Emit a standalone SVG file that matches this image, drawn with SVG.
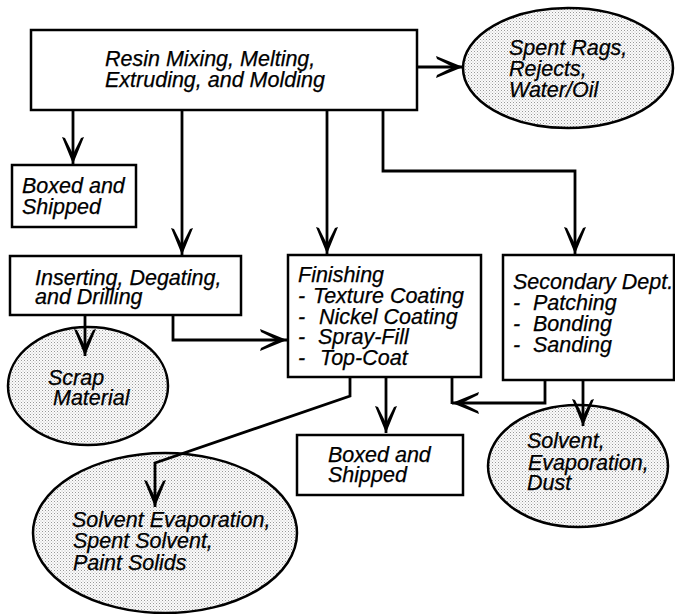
<svg xmlns="http://www.w3.org/2000/svg" width="675" height="614" viewBox="0 0 675 614">
<defs>
<pattern id="stip" width="3" height="3" patternUnits="userSpaceOnUse">
<rect width="3" height="3" fill="#fbfbfb"/>
<rect x="0" y="0" width="1" height="1" fill="#999"/>
<rect x="1.5" y="1.5" width="1" height="1" fill="#bbb"/>
</pattern>
<marker id="arr" viewBox="-30 -14 32 28" refX="0" refY="0" markerWidth="32" markerHeight="28" markerUnits="userSpaceOnUse" orient="auto">
<path d="M0,0 L-27,-11 L-26,-8 Q-16,-3 -10,0 Q-16,3 -26,8 L-27,11 Z" fill="#000"/>
</marker>
<style>
.box{fill:#fff;stroke:#000;stroke-width:2.5}
.ell{fill:url(#stip);stroke:#000;stroke-width:2.5}
.t{font-family:"Liberation Sans",Arial,sans-serif;font-style:italic;font-size:21.5px;fill:#000;stroke:#000;stroke-width:0.25}
.c{fill:none;stroke:#000;stroke-width:2.8}
.a{marker-end:url(#arr)}
</style>
</defs>
<rect width="675" height="614" fill="#fff"/>
<g id="resin">
<rect class="box" x="31" y="30" width="386" height="80"/>
<text class="t" x="105" y="66">Resin Mixing, Melting,</text>
<text class="t" x="105" y="87">Extruding, and Molding</text>
</g>
<g id="spent-rags">
<ellipse class="ell" cx="568" cy="68" rx="105" ry="60"/>
<text class="t" x="509" y="55">Spent Rags,</text>
<text class="t" x="509" y="76">Rejects,</text>
<text class="t" x="509" y="97">Water/Oil</text>
</g>
<g id="boxed1">
<rect class="box" x="12" y="165" width="124" height="62"/>
<text class="t" x="22" y="193">Boxed and</text>
<text class="t" x="22" y="214">Shipped</text>
</g>
<g id="inserting">
<rect class="box" x="10" y="256" width="231" height="59"/>
<text class="t" x="35" y="285">Inserting, Degating,</text>
<text class="t" x="35" y="304">and Drilling</text>
</g>
<g id="finishing">
<rect class="box" x="288" y="255" width="193" height="122"/>
<text class="t" x="298" y="282">Finishing</text>
<text class="t" x="298" y="303">- <tspan x="313">Texture Coating</tspan></text>
<text class="t" x="298" y="324">- <tspan x="319">Nickel Coating</tspan></text>
<text class="t" x="298" y="344">- <tspan x="318">Spray-Fill</tspan></text>
<text class="t" x="298" y="365">- <tspan x="320">Top-Coat</tspan></text>
</g>
<g id="secondary">
<rect class="box" x="503" y="255" width="171" height="125"/>
<text class="t" x="513" y="289">Secondary Dept.</text>
<text class="t" x="513" y="310">- <tspan x="533">Patching</tspan></text>
<text class="t" x="513" y="331">- <tspan x="533">Bonding</tspan></text>
<text class="t" x="513" y="352">- <tspan x="533">Sanding</tspan></text>
</g>
<g id="scrap">
<ellipse class="ell" cx="88" cy="386" rx="80" ry="59"/>
<text class="t" x="48" y="385">Scrap</text>
<text class="t" x="53" y="405">Material</text>
</g>
<g id="boxed2">
<rect class="box" x="297" y="435" width="166" height="60"/>
<text class="t" x="328" y="462">Boxed and</text>
<text class="t" x="328" y="482">Shipped</text>
</g>
<g id="solvent-dust">
<ellipse class="ell" cx="578" cy="466" rx="90" ry="61"/>
<text class="t" x="527" y="448">Solvent,</text>
<text class="t" x="528" y="470">Evaporation,</text>
<text class="t" x="527" y="490">Dust</text>
</g>
<g id="solvent-paint">
<ellipse class="ell" cx="165" cy="533" rx="132" ry="80"/>
<text class="t" x="72" y="527">Solvent Evaporation,</text>
<text class="t" x="73" y="548">Spent Solvent,</text>
<text class="t" x="73" y="570">Paint Solids</text>
</g>
<g id="connectors">
<path class="c a" d="M417,67 H463"/>
<path class="c a" d="M73,110 V164"/>
<path class="c a" d="M182,110 V255"/>
<path class="c a" d="M327,110 V254"/>
<path class="c a" d="M383,110 V171 H575 V254"/>
<path class="c a" d="M85,315 V356"/>
<path class="c a" d="M173,315 V340 H287"/>
<path class="c a" d="M350,377 V396 L155,463 V507"/>
<path class="c a" d="M386,377 V433"/>
<path class="c" d="M452,377 V404"/>
<path class="c a" d="M545,380 V403 H452"/>
<path class="c a" d="M583,380 V426"/>
</g>
</svg>
